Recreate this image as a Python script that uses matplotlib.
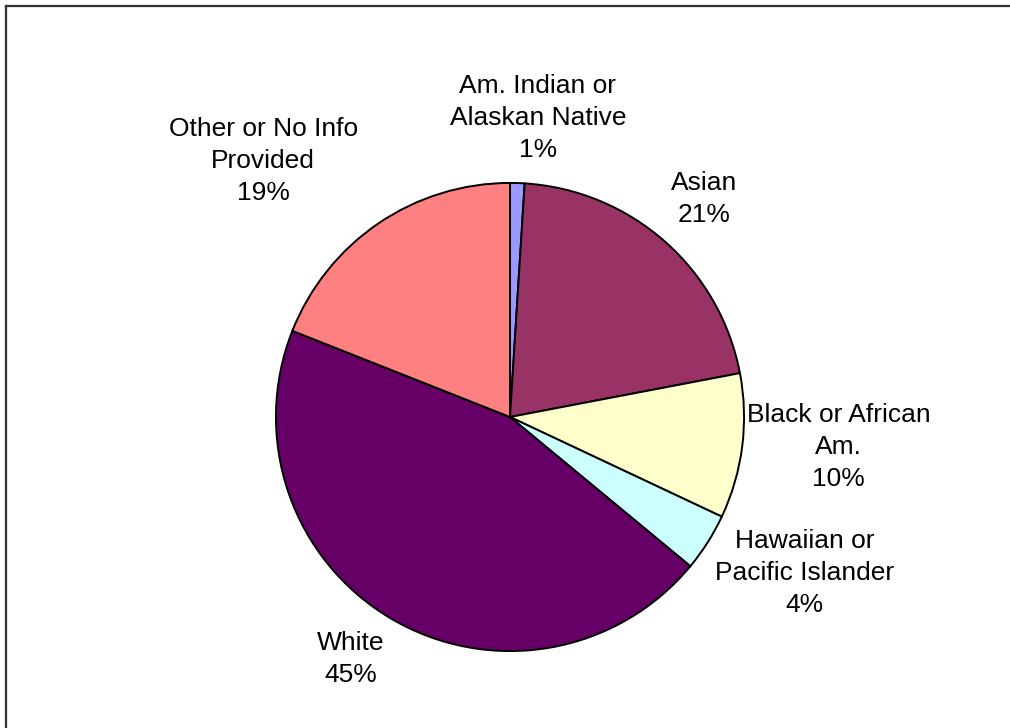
import matplotlib
matplotlib.use("Agg")
import matplotlib.pyplot as plt
from matplotlib.lines import Line2D

# Student ethnicity breakdown
categories = ["Am. Indian or\nAlaskan Native", "Asian", "Black or African\nAm.",
              "Hawaiian or\nPacific Islander", "White", "Other or No Info\nProvided"]
shares = [1, 21, 10, 4, 45, 19]
colors = ["#9999FF", "#993366", "#FFFFCC", "#CCFFFF", "#660066", "#FF8080"]

# label centres, in units of the pie radius
label_pos = [(0.119, 1.277), (0.83, 0.932), (1.404, -0.128),
             (1.26, -0.668), (-0.681, -1.034), (-1.055, 1.094)]

plt.rcParams["font.family"] = ["Liberation Sans", "DejaVu Sans"]

fig = plt.figure(figsize=(10.10, 7.28), dpi=100)
fig.patch.set_facecolor("white")

# chart frame (top and left edges)
fig.add_artist(Line2D([5.5 / 1010, 5.5 / 1010], [0, 1 - 5.5 / 728],
                      transform=fig.transFigure, color="#333333", lw=1.6))
fig.add_artist(Line2D([5.5 / 1010, 1], [1 - 5.5 / 728, 1 - 5.5 / 728],
                      transform=fig.transFigure, color="#333333", lw=1.6))

ax = fig.add_axes([275 / 1010, 76 / 728, 470 / 1010, 470 / 728])
wedges, _ = ax.pie(shares, colors=colors, startangle=90, counterclock=False,
                   radius=1.0, wedgeprops=dict(edgecolor="black", linewidth=1.4))
ax.set_xlim(-1.004, 1.004)
ax.set_ylim(-1.004, 1.004)
ax.set_aspect("equal")
ax.axis("off")

for name, val, (x, y) in zip(categories, shares, label_pos):
    ax.text(x, y, f"{name}\n{val}%", ha="center", va="center",
            fontsize=19, linespacing=1.42, clip_on=False)

fig.savefig("out.png", dpi=100)
